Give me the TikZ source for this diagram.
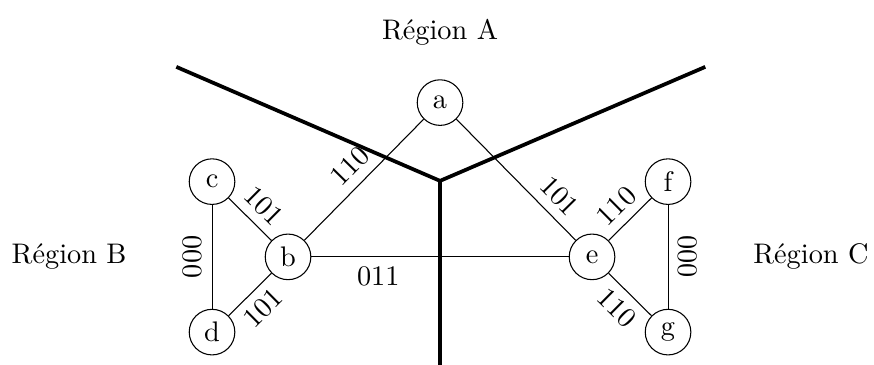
\documentclass[tikz,border=0pt]{standalone}
\usepackage{tikz}
\usetikzlibrary{positioning}

\begin{document}
\begin{tikzpicture}[font=\fontsize{10.6}{12.7}\selectfont,
  sommet/.style={draw,circle,minimum size=0.6cm,inner sep=0pt},
  frontiere/.style={line width=1.4pt},
  arete/.style={line width=0.4pt}]
\useasboundingbox (-5.79,-1.42) rectangle (5.71,3.38);
% regions
\coordinate (centre) at (0,1);
\coordinate (hautg) at (-3.47,2.5);
\coordinate (hautd) at (3.49,2.5);
\coordinate (bas) at (0,-1.42);
\draw[frontiere] (hautg) -- (centre) -- (hautd);
\draw[frontiere] (centre) -- (bas);
\node (regA) at (0,2.96) {Région A};
\node (regB) at (-4.88,0) {Région B};
\node (regC) at (4.88,0) {Région C};
% sommets
\node[sommet] (a) at (0,2.03) {a};
\node[sommet] (b) at (-2,0) {b};
\node[sommet] (c) at (-3,0.99) {c};
\node[sommet] (d) at (-3,-0.99) {d};
\node[sommet] (e) at (2,0) {e};
\node[sommet] (f) at (3,0.99) {f};
\node[sommet] (g) at (3,-0.99) {g};
% aretes
\draw[arete] (d) -- (c) node[midway,above,sloped] {000};
\draw[arete] (c) -- (b) node[midway,above,sloped] {101};
\draw[arete] (d) -- (b) node[midway,below,sloped] {101};
\draw[arete] (b) -- (a) node[midway,above,sloped] {110};
\draw[arete] (a) -- (e) node[pos=0.75,above,sloped] {101};
\draw[arete] (b) -- (e) node[pos=0.26,below] {011};
\draw[arete] (e) -- (f) node[midway,above,sloped] {110};
\draw[arete] (e) -- (g) node[midway,below,sloped] {110};
\draw[arete] (f) -- (g) node[midway,above,sloped] {000};
\end{tikzpicture}
\end{document}
